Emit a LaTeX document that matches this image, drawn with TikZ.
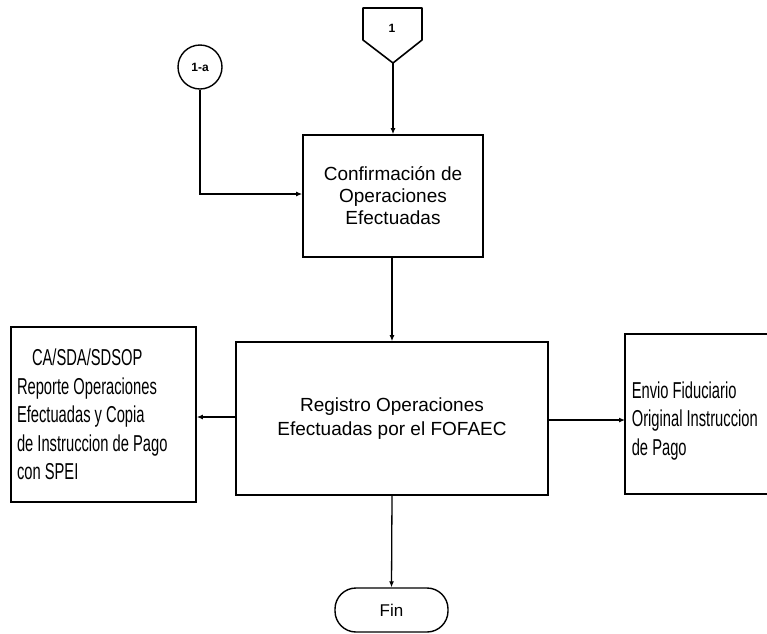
\documentclass[tikz,border=0pt]{standalone}
\usepackage{fontspec}
\setmainfont{Liberation Sans}
\newfontfamily\narrowfont[FakeStretch=0.64]{Liberation Sans}
\usetikzlibrary{arrows.meta}
\begin{document}
\begin{tikzpicture}[x=1pt,y=-1pt,
  procbox/.style={draw,line width=1.6pt,inner sep=0pt,align=center,
    font=\fontsize{19}{22}\selectfont},
  sidebox/.style={line width=1.6pt,inner sep=6pt,align=flush left,
    font=\narrowfont\fontsize{23}{28.5}\selectfont},
  conn/.style={line width=1.3pt,-{Latex[length=6pt,width=5pt]}}]
\useasboundingbox (0,0) rectangle (767,633);
\clip (0,0) rectangle (767,633);

% off-page connector
\draw[line width=1.6pt,line join=round] (363,8) -- (422,8) -- (422,40) -- (393,63) -- (363,40) -- cycle;
\node[font=\fontsize{12}{14}\selectfont\bfseries] (off) at (392,28) {1};
\coordinate (offtip) at (393,63);

% on-page connector
\node[draw,circle,line width=1.4pt,minimum size=44pt,inner sep=0pt,
  font=\fontsize{12}{14}\selectfont\bfseries] (c1a) at (200,67) {1-a};

% process boxes
\node[procbox,minimum width=180pt,minimum height=122pt] (conf) at (393,196)
  {Confirmación de\\Operaciones\\Efectuadas};
\node[procbox,minimum width=312pt,minimum height=153pt,
  font=\fontsize{19}{24}\selectfont] (reg) at (392,418.5)
  {Registro Operaciones\\Efectuadas por el FOFAEC};

% document boxes at the sides
\node[sidebox,draw,minimum width=185pt,minimum height=175pt,text width=173pt] (rep) at (103.5,414.5)
  {\hspace*{15pt}CA/SDA/SDSOP\\Reporte Operaciones\\Efectuadas y Copia\\de Instruccion de Pago\\con SPEI};
\node[sidebox,anchor=west,minimum width=220pt,minimum height=158pt,text width=208pt,
  inner sep=5pt,text depth=48pt] (env) at (625,414)
  {Envio Fiduciario\\Original Instruccion\\de Pago};
% this box runs on past the right edge, so only three sides are drawn
\draw[line width=1.6pt] (env.north east) -- (env.north west) -- (env.south west) -- (env.south east);

% terminator
\node[draw,line width=1.4pt,rounded corners=21pt,minimum width=113pt,minimum height=44pt,
  font=\fontsize{17}{20}\selectfont] (fin) at (391.5,610) {Fin};

% connectors
\draw[conn] (offtip) -- (conf.north);
\draw[conn] (c1a.south) |- ([yshift=2pt]conf.west);
\draw[conn] (conf.south -| reg.north) -- (reg.north);
\draw[conn] ([yshift=1.5pt]reg.west) -- ([yshift=1.5pt]reg.west -| rep.east);
\draw[conn] ([yshift=-1.5pt]reg.east) -- ([yshift=-1.5pt]reg.east -| env.west);
\draw[conn] (reg.south) -- (fin.north);
\end{tikzpicture}
\end{document}
